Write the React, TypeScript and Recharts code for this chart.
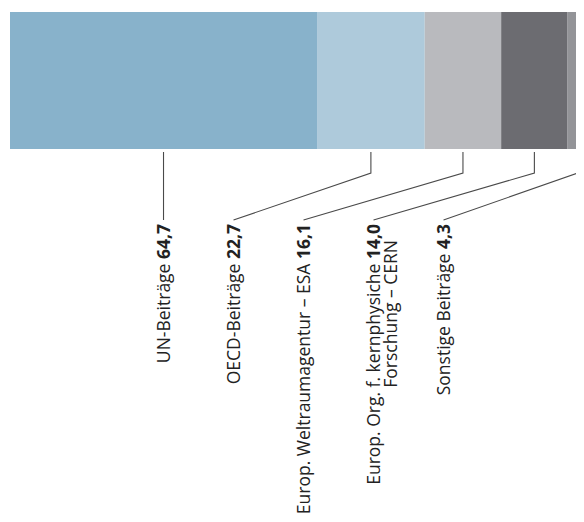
import { Bar, BarChart, LabelList, XAxis, YAxis } from "recharts";

const categories = ["Beiträge"];
const names = [
  "UN-Beiträge",
  "OECD-Beiträge",
  "Europ. Weltraumagentur – ESA",
  "Europ. Org. f. kernphysiche",
  "Sonstige Beiträge",
];
const secondLines = ["", "", "", "Forschung – CERN", ""];
const values = [64.7, 22.7, 16.1, 14.0, 4.3];
const colors = ["#88b2cb", "#aecadb", "#b9babe", "#6c6c71", "#939498"];

const total = values.reduce((a, b) => a + b, 0);
const data = categories.map((c) => {
  const row: Record<string, string | number> = { cat: c };
  values.forEach((v, i) => (row[`s${i}`] = v));
  return row;
});

const fmt = (v: number) => v.toFixed(1).replace(".", ",");

const FONT = "'Open Sans', sans-serif";
const FONT_SIZE = 17.5;
const LABEL_GAP = 70;
const LABEL_TOP = 216;
const LINE_END = 212;

function makeLeader(i: number) {
  return (props: any) => {
    const { x, y, width, height } = props;
    const scale = width / values[i];
    const before = values.slice(0, i).reduce((a, b) => a + b, 0);
    const left = x - before * scale;
    const firstCenter = left + (values[0] / 2) * scale;
    const labelX = firstCenter + i * LABEL_GAP;
    const cx = x + width / 2;
    const bottom = y + height;
    const d =
      i === 0
        ? `M${cx},${bottom + 3}V${LINE_END}`
        : `M${cx},${bottom + 3}V${bottom + 24}L${labelX},${LINE_END}`;
    const bx = labelX + 6;
    const bx2 = bx + 17;
    const top2 = LABEL_TOP + 16;
    return (
      <g>
        <path d={d} stroke="#4a4a4a" strokeWidth={1.1} fill="none" />
        <text
          x={bx}
          y={LABEL_TOP}
          transform={`rotate(-90, ${bx}, ${LABEL_TOP})`}
          textAnchor="end"
          fontSize={FONT_SIZE}
          fontFamily={FONT}
          fill="#222"
        >
          {names[i]} <tspan fontWeight="bold">{fmt(values[i])}</tspan>
        </text>
        {secondLines[i] && (
          <text
            x={bx2}
            y={top2}
            transform={`rotate(-90, ${bx2}, ${top2})`}
            textAnchor="end"
            fontSize={FONT_SIZE}
            fontFamily={FONT}
            fill="#222"
          >
            {secondLines[i]}
          </text>
        )}
      </g>
    );
  };
}

export default function App() {
  return (
    <div style={{ width: 576, height: 514, overflow: "hidden" }}>
      <BarChart
        width={580}
        height={514}
        data={data}
        layout="vertical"
        barCategoryGap={0}
        margin={{ top: 4, right: 0, bottom: 373, left: 2 }}
      >
        <XAxis type="number" domain={[0, total]} hide />
        <YAxis type="category" dataKey="cat" hide />
        {values.map((_, i) => (
          <Bar
            key={i}
            dataKey={`s${i}`}
            stackId="a"
            fill={colors[i]}
            isAnimationActive={false}
          >
            <LabelList dataKey={`s${i}`} content={makeLeader(i)} />
          </Bar>
        ))}
      </BarChart>
    </div>
  );
}
